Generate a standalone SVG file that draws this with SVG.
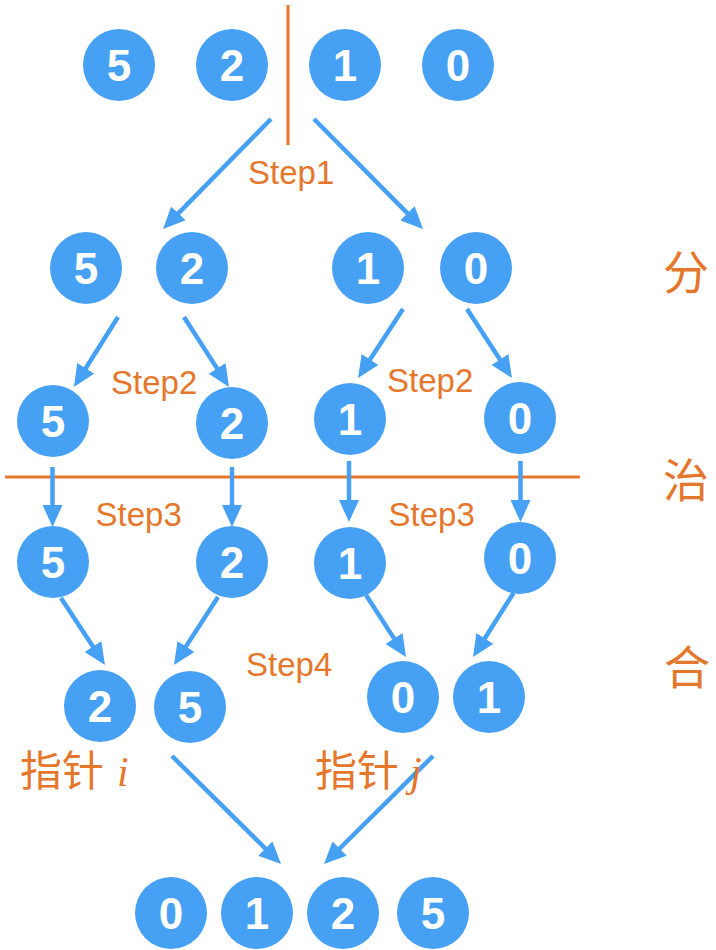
<svg xmlns="http://www.w3.org/2000/svg" width="716" height="950" viewBox="0 0 716 950">
<style>
.n circle{fill:#46a0f4}
.n text{fill:#fff;font-family:"Liberation Sans",Arial,sans-serif;font-weight:bold;font-size:44px;text-anchor:middle}
.step{fill:#e5772c;font-family:"Liberation Sans",Arial,sans-serif;font-size:33px}
.cjk{fill:#e5772c;font-family:"Noto Sans CJK SC",sans-serif;font-size:46px;text-anchor:middle}
.ptr{fill:#e5772c;font-family:"Noto Sans CJK SC",sans-serif;font-size:42px}
.ptr tspan{font-family:"Liberation Serif",serif;font-style:italic}
.div{stroke:#e5772c;stroke-width:3;fill:none}
#connectors line{stroke:#46a0f4;stroke-width:4.5;fill:none;marker-end:url(#ah)}
</style>
<defs>
<marker id="ah" markerUnits="userSpaceOnUse" viewBox="0 0 22 20" refX="12" refY="10" markerWidth="22" markerHeight="20" orient="auto">
<path d="M0,0 L22,10 L0,20 z" fill="#46a0f4"/>
</marker>
</defs>
<rect width="716" height="950" fill="#fff"/>
<line class="div" x1="288" y1="5" x2="288" y2="145"/>
<line class="div" x1="5" y1="477" x2="580" y2="477"/>
<g id="connectors">
<line x1="271" y1="119" x2="170" y2="221.9"/>
<line x1="314" y1="119" x2="416" y2="221.9"/>
<line x1="118" y1="317" x2="79.3" y2="378.5"/>
<line x1="184" y1="317" x2="223.6" y2="378.6"/>
<line x1="403" y1="309" x2="363.5" y2="369.6"/>
<line x1="467" y1="309" x2="506.5" y2="369.6"/>
<line x1="52.5" y1="467" x2="52.5" y2="517"/>
<line x1="232" y1="467" x2="232" y2="517"/>
<line x1="349" y1="461" x2="349" y2="512"/>
<line x1="520.5" y1="461" x2="520.5" y2="512"/>
<line x1="61" y1="598" x2="99.5" y2="656.6"/>
<line x1="218" y1="597" x2="179.4" y2="656.6"/>
<line x1="366" y1="595" x2="400.6" y2="648.6"/>
<line x1="513.5" y1="593" x2="478.4" y2="648.5"/>
<line x1="172" y1="756" x2="273.9" y2="857"/>
<line x1="433" y1="756" x2="331.1" y2="857"/>
</g>
<g id="r1n5" class="n"><circle cx="119" cy="65" r="36"/><text x="119" y="81">5</text></g>
<g id="r1n2" class="n"><circle cx="232" cy="65" r="36"/><text x="232" y="81">2</text></g>
<g id="r1n1" class="n"><circle cx="345" cy="65" r="36"/><text x="345" y="81">1</text></g>
<g id="r1n0" class="n"><circle cx="458" cy="65" r="36"/><text x="458" y="81">0</text></g>
<g id="r2n5" class="n"><circle cx="86" cy="268" r="36"/><text x="86" y="284">5</text></g>
<g id="r2n2" class="n"><circle cx="192" cy="268" r="36"/><text x="192" y="284">2</text></g>
<g id="r2n1" class="n"><circle cx="368" cy="268" r="36"/><text x="368" y="284">1</text></g>
<g id="r2n0" class="n"><circle cx="476" cy="268" r="36"/><text x="476" y="284">0</text></g>
<g id="r3n5" class="n"><circle cx="53" cy="421" r="36"/><text x="53" y="437">5</text></g>
<g id="r3n2" class="n"><circle cx="232" cy="423" r="36"/><text x="232" y="439">2</text></g>
<g id="r3n1" class="n"><circle cx="350" cy="419" r="36"/><text x="350" y="435">1</text></g>
<g id="r3n0" class="n"><circle cx="520" cy="418" r="36"/><text x="520" y="434">0</text></g>
<g id="r4n5" class="n"><circle cx="53" cy="562" r="36"/><text x="53" y="578">5</text></g>
<g id="r4n2" class="n"><circle cx="232" cy="562" r="36"/><text x="232" y="578">2</text></g>
<g id="r4n1" class="n"><circle cx="350" cy="563" r="36"/><text x="350" y="579">1</text></g>
<g id="r4n0" class="n"><circle cx="520" cy="558" r="36"/><text x="520" y="574">0</text></g>
<g id="r5n2" class="n"><circle cx="100" cy="706" r="36"/><text x="100" y="722">2</text></g>
<g id="r5n5" class="n"><circle cx="190" cy="707" r="36"/><text x="190" y="723">5</text></g>
<g id="r5n0" class="n"><circle cx="403" cy="697" r="36"/><text x="403" y="713">0</text></g>
<g id="r5n1" class="n"><circle cx="489" cy="697" r="36"/><text x="489" y="713">1</text></g>
<g id="r6n0" class="n"><circle cx="171" cy="913" r="36"/><text x="171" y="929">0</text></g>
<g id="r6n1" class="n"><circle cx="257" cy="913" r="36"/><text x="257" y="929">1</text></g>
<g id="r6n2" class="n"><circle cx="343" cy="913" r="36"/><text x="343" y="929">2</text></g>
<g id="r6n5" class="n"><circle cx="433" cy="913" r="36"/><text x="433" y="929">5</text></g>
<g id="labels">
<text class="step" x="248" y="184">Step1</text>
<text class="step" x="111" y="394">Step2</text>
<text class="step" x="387" y="392">Step2</text>
<text class="step" x="95.5" y="526">Step3</text>
<text class="step" x="388.5" y="526">Step3</text>
<text class="step" x="246" y="676">Step4</text>
<text class="ptr" x="20" y="786">指针<tspan x="117">i</tspan></text>
<text class="ptr" x="315" y="786">指针<tspan x="410">j</tspan></text>
<text class="cjk" x="686" y="289">分</text>
<text class="cjk" x="686" y="497">治</text>
<text class="cjk" x="687" y="684">合</text>
</g>
</svg>
